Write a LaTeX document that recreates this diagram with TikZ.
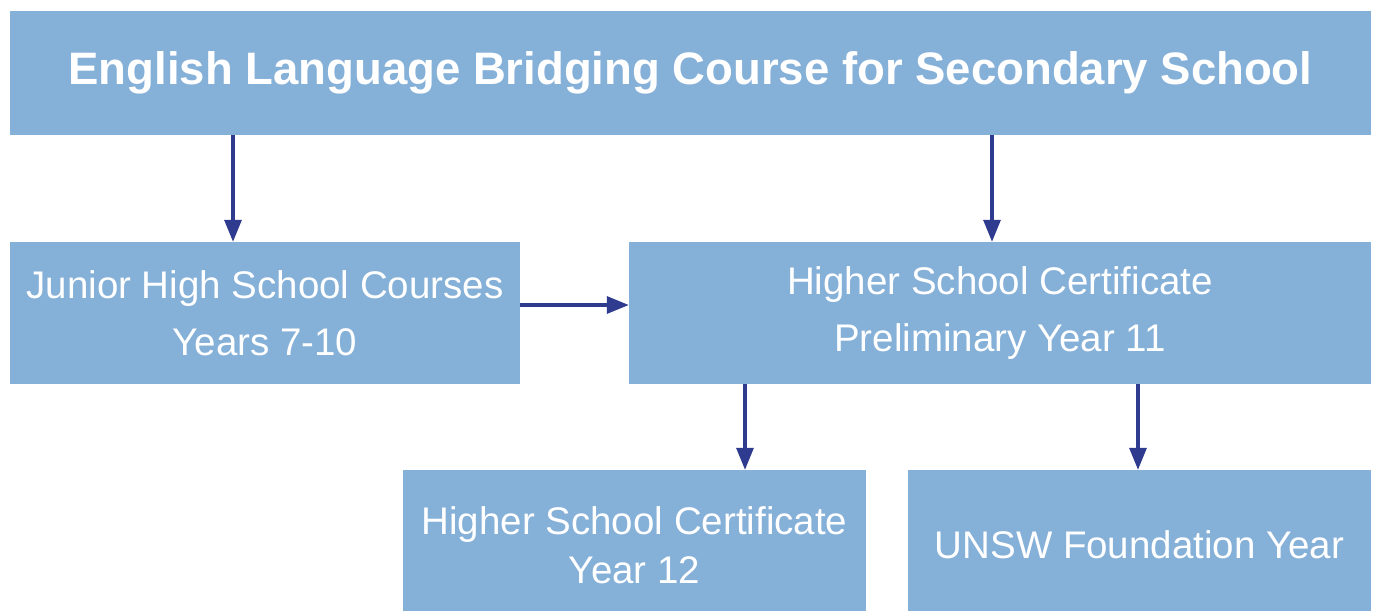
\documentclass[tikz,border=0pt]{standalone}
\usepackage{fontspec}
\setmainfont{Liberation Sans}
\usetikzlibrary{arrows.meta}
\definecolor{boxblue}{HTML}{85B0D8}
\definecolor{arrowblue}{HTML}{2E3B8F}
\tikzset{
  box/.style={fill=boxblue, draw=none, text=white, align=center, inner sep=0pt},
  arr/.style={draw=arrowblue, line width=3.2pt, -{Triangle[length=22pt,width=17pt]}},
}
\begin{document}
\begin{tikzpicture}[x=1pt,y=-1pt]
\useasboundingbox (0,0) rectangle (1375,610);
\node[box, minimum width=1361pt, minimum height=124pt, font=\fontsize{45.5}{52}\selectfont\bfseries] (top) at (690.5,73) {English Language Bridging Course for Secondary School};
\node[box, minimum width=510pt, minimum height=142pt, font=\fontsize{38.5}{57}\selectfont] (junior) at (265,313) {Junior High School Courses\\Years 7-10};
\node[box, minimum width=742pt, minimum height=142pt, font=\fontsize{38.5}{57}\selectfont] (prelim) at (1000,313) {Higher School Certificate\\Preliminary Year 11};
\node[box, minimum width=463pt, minimum height=150pt, font=\fontsize{38.5}{49}\selectfont] (hsc) at (634.5,545) {Higher School Certificate\\Year 12};
\node[box, minimum width=463pt, minimum height=150pt, font=\fontsize{38.5}{49}\selectfont] (unsw) at (1139.5,545) {UNSW Foundation Year};
\coordinate (c1) at (233,0);
\coordinate (c2) at (992,0);
\coordinate (c3) at (0,305);
\coordinate (c4) at (745,0);
\coordinate (c5) at (1138,0);
\draw[arr] (top.south -| c1) -- (junior.north -| c1);
\draw[arr] (top.south -| c2) -- (prelim.north -| c2);
\draw[arr] (junior.east |- c3) -- (prelim.west |- c3);
\draw[arr] (prelim.south -| c4) -- (hsc.north -| c4);
\draw[arr] (prelim.south -| c5) -- (unsw.north -| c5);
\end{tikzpicture}
\end{document}
